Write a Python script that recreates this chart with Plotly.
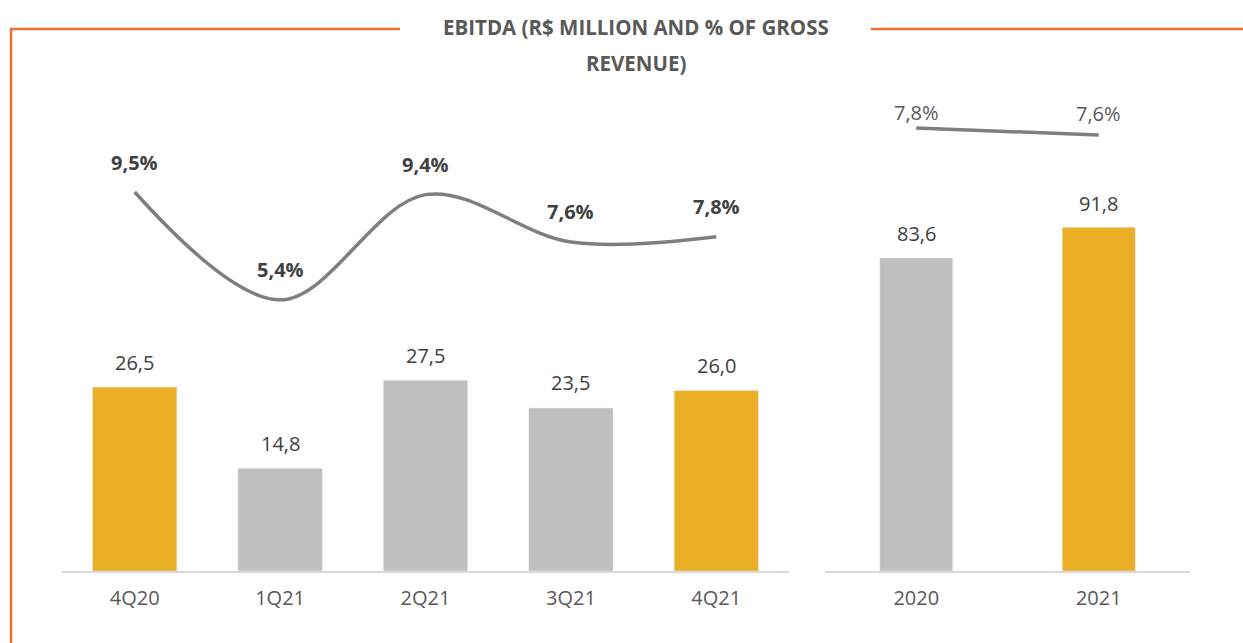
import plotly.graph_objects as go

# ───── datos ──────────────────────────────────────
quarters = ["4Q20", "1Q21", "2Q21", "3Q21", "4Q21"]
ebitda_q = [26.5, 14.8, 27.5, 23.5, 26.0]
margin_q = [9.5, 5.4, 9.4, 7.6, 7.8]

years = ["2020", "2021"]
ebitda_y = [83.6, 91.8]
margin_y = [7.8, 7.6]

GOLD = "#EAAF24"
GREY = "#BFBFBF"
LINE = "#7F7F7F"
ORANGE = "#F26F31"
FONT = "Open Sans"

W, H = 1243, 643
BASE = 571  # línea base de las barras (px)


def px_x(p):
    return p / W


def px_y(p):
    return 1 - p / H


fmt = lambda v, d=1: f"{v:.{d}f}".replace(".", ",")

q_colors = [GOLD, GREY, GREY, GREY, GOLD]
y_colors = [GREY, GOLD]
yx = list(range(len(years)))  # posiciones numéricas (los años como texto se leen como números)

fig = go.Figure()

# --- panel trimestral ---
fig.add_bar(x=quarters, y=ebitda_q, marker_color=q_colors, width=0.58,
            xaxis="x", yaxis="y", showlegend=False, hoverinfo="x+y")
fig.add_scatter(x=quarters, y=margin_q, mode="lines",
                line=dict(color=LINE, width=3.5, shape="spline", smoothing=1.0),
                xaxis="x", yaxis="y2", showlegend=False)

# --- panel anual ---
fig.add_bar(x=yx, y=ebitda_y, marker_color=y_colors, width=0.40,
            xaxis="x3", yaxis="y3", showlegend=False, hoverinfo="y")
fig.add_scatter(x=yx, y=margin_y, mode="lines",
                line=dict(color=LINE, width=3.5),
                xaxis="x3", yaxis="y4", showlegend=False)

ann = []
for c, v in zip(quarters, ebitda_q):
    ann.append(dict(x=c, y=v, xref="x", yref="y", text=fmt(v), showarrow=False,
                    yshift=25, font=dict(size=20, color="#404040")))
for c, v in zip(quarters, margin_q):
    ann.append(dict(x=c, y=v, xref="x", yref="y2", text=f"<b>{fmt(v)}%</b>", showarrow=False,
                    yshift=30, font=dict(size=20, color="#404040")))
for c, v in zip(yx, ebitda_y):
    ann.append(dict(x=c, y=v, xref="x3", yref="y3", text=fmt(v), showarrow=False,
                    yshift=24, font=dict(size=20, color="#404040")))
# etiquetas del margen anual a la misma altura
for c, v, sh in zip(yx, margin_y, [16, 22]):
    ann.append(dict(x=c, y=v, xref="x3", yref="y4", text=f"{fmt(v)}%", showarrow=False,
                    yshift=sh, font=dict(size=20, color="#595959")))

# título en dos líneas
for txt, yy in [("EBITDA (R$ MILLION AND % OF GROSS", 27), ("REVENUE)", 63)]:
    ann.append(dict(x=px_x(636), y=px_y(yy), xref="paper", yref="paper", showarrow=False,
                    text=f"<b>{txt}</b>", font=dict(size=20.5, color="#595959"),
                    xanchor="center", yanchor="middle"))
fig.update_layout(annotations=ann)

# marco naranja
shapes = [
    dict(type="line", xref="paper", yref="paper", x0=px_x(10), x1=px_x(400), y0=px_y(29), y1=px_y(29),
         line=dict(color=ORANGE, width=2.5)),
    dict(type="line", xref="paper", yref="paper", x0=px_x(871), x1=1, y0=px_y(29), y1=px_y(29),
         line=dict(color=ORANGE, width=2.5)),
    dict(type="line", xref="paper", yref="paper", x0=px_x(11), x1=px_x(11), y0=px_y(29), y1=0,
         line=dict(color=ORANGE, width=2.5)),
]
fig.update_layout(shapes=shapes)

dom_y = [px_y(BASE), 1]
xcommon = dict(showgrid=False, zeroline=False, showline=True,
               linecolor="#D9D9D9", linewidth=2, automargin=False,
               ticks="outside", ticklen=8, tickcolor="rgba(0,0,0,0)",
               tickfont=dict(size=20, color="#595959", family=FONT), fixedrange=True)
ycommon = dict(visible=False, showgrid=False, zeroline=False, fixedrange=True, automargin=False)

fig.update_layout(
    width=W, height=H,
    margin=dict(l=0, r=0, t=0, b=0, autoexpand=False),
    paper_bgcolor="white", plot_bgcolor="white",
    font=dict(family=FONT),
    xaxis=dict(domain=[px_x(62), px_x(789)], anchor="y", type="category", **xcommon),
    yaxis=dict(domain=dom_y, range=[0, BASE / 6.94], **ycommon),
    yaxis2=dict(domain=dom_y, overlaying="y", range=[9.5 - (BASE - 192) / 26.3, 9.5 + 192 / 26.3], **ycommon),
    xaxis3=dict(domain=[px_x(825), px_x(1190)], anchor="y3", type="linear",
                range=[-0.5, len(years) - 0.5], tickvals=yx, ticktext=years, **xcommon),
    yaxis3=dict(domain=dom_y, range=[0, BASE / 3.745], anchor="x3", **ycommon),
    yaxis4=dict(domain=dom_y, overlaying="y3", anchor="x3",
                range=[7.8 - (BASE - 128) / 35, 7.8 + 128 / 35], **ycommon),
)

fig.write_html("out.html", config={"displayModeBar": False},
               post_script="document.body.style.margin='0';")
